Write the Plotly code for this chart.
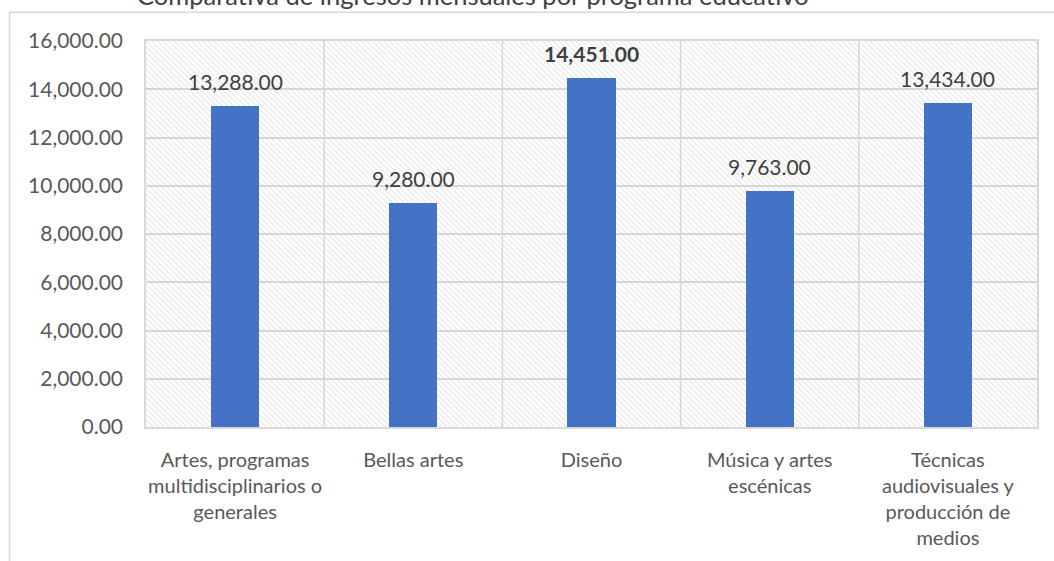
import plotly.graph_objects as go

categories = [
    "Artes, programas<br>multidisciplinarios o<br>generales",
    "Bellas artes",
    "Diseño",
    "Música y artes<br>escénicas",
    "Técnicas<br>audiovisuales y<br>producción de<br>medios",
]
values = [13288.00, 9280.00, 14451.00, 9763.00, 13434.00]
y_ticks = [0, 2000, 4000, 6000, 8000, 10000, 12000, 14000, 16000]
title_text = "Comparativa de ingresos mensuales por programa educativo"

FONT = "Lato"
positions = list(range(len(categories)))
ymax = y_ticks[-1]

fig = go.Figure()

# hatched plot-area background
fig.add_trace(go.Bar(
    x=[(positions[0] + positions[-1]) / 2], y=[ymax], width=[len(categories)],
    marker=dict(color="rgba(0,0,0,0)", line=dict(width=0),
                pattern=dict(shape="\\", fgcolor="#C4C4C4", size=4,
                             solidity=0.25, fillmode="overlay")),
    hoverinfo="skip", showlegend=False,
))

fig.add_trace(go.Bar(
    x=positions, y=values, width=0.27,
    marker=dict(color="#4472C4", line=dict(width=0)),
    showlegend=False,
))

vmax = max(values)
for p, v in zip(positions, values):
    label = f"{v:,.2f}"
    if v == vmax:
        label = f"<b>{label}</b>"
    fig.add_annotation(x=p, y=v, text=label, showarrow=False,
                       yanchor="bottom", yshift=10,
                       font=dict(family=FONT, size=21, color="#404040"))

fig.add_annotation(xref="paper", yref="paper", x=(473 - 146) / 891, y=(432 - 12) / 391,
                   xanchor="center", yanchor="bottom", text=title_text, showarrow=False,
                   font=dict(family=FONT, size=25.5, color="#404040"))

# outer chart border
fig.add_shape(type="rect", xref="paper", yref="paper",
              x0=(9.5 - 146) / 891, x1=1.2, y0=-0.6, y1=(432 - 12) / 391,
              line=dict(color="#D9D9D9", width=1.5), fillcolor="rgba(0,0,0,0)",
              layer="below")

fig.update_layout(
    width=1054, height=561,
    margin=dict(l=146, r=17, t=41, b=129),
    paper_bgcolor="white", plot_bgcolor="white",
    barmode="overlay", bargap=0,
    font=dict(family=FONT, color="#595959"),
)
fig.update_xaxes(
    range=[positions[0] - 0.5, positions[-1] + 0.5],
    tickmode="array", tickvals=positions, ticktext=categories,
    tickfont=dict(family=FONT, size=20, color="#595959"),
    showgrid=False, zeroline=False, ticks="", ticklabelstandoff=14,
    showline=True, mirror=True, linecolor="#D9D9D9", linewidth=1.5,
    fixedrange=True,
)
for i in range(len(positions) - 1):
    fig.add_vline(x=positions[i] + 0.5, line=dict(color="#D9D9D9", width=1.5), layer="below")
fig.update_yaxes(
    range=[0, ymax], tickmode="array", tickvals=y_ticks, tickformat=",.2f",
    tickfont=dict(family=FONT, size=21, color="#595959"),
    showgrid=True, gridcolor="#D9D9D9", gridwidth=1.5, zeroline=False,
    showline=True, mirror=True, linecolor="#D9D9D9", linewidth=1.5,
    ticks="", ticklabelstandoff=17, fixedrange=True,
)

fig.write_html(
    "out.html",
    config={"displayModeBar": False},
    post_script="document.body.style.margin='0';document.body.style.overflow='hidden';",
)
